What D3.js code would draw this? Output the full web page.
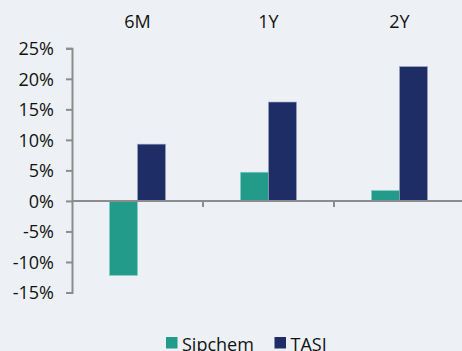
<!DOCTYPE html>
<html>
<head>
<meta charset="utf-8">
<script src="https://cdn.jsdelivr.net/npm/d3@7"></script>
<style>
  html, body { margin: 0; padding: 0; background: #edf1f5; }
  svg { display: block; }
</style>
</head>
<body>
<script>
const categories = ["6M", "1Y", "2Y"];
const seriesNames = ["Sipchem", "TASI"];
const sipchem = [-12.2, 4.7, 1.7];
const tasi = [9.3, 16.2, 22.0];
const yTicks = [25, 20, 15, 10, 5, 0, -5, -10, -15];

const colors = { Sipchem: "#239b8b", TASI: "#1f2d67" };

function main() {
    const width = 462;
    const height = 351;

    const svg = d3.select("body").append("svg")
        .attr("width", width)
        .attr("height", height)
        .style("font-family", "'Open Sans', sans-serif");

    svg.append("rect")
        .attr("width", width)
        .attr("height", height)
        .attr("fill", "#edf1f5");

    const x = d3.scaleBand()
        .domain(categories)
        .range([72, 465]);

    const inner = d3.scaleBand()
        .domain(seriesNames)
        .range([0, 56]);

    const y = d3.scaleLinear()
        .domain([-15, 25])
        .range([292.5, 48.3]);

    const rows = categories.map((c, i) => ({ cat: c, Sipchem: sipchem[i], TASI: tasi[i] }));

    // bars
    const groups = svg.append("g")
        .selectAll("g")
        .data(rows)
        .join("g")
        .attr("transform", d => `translate(${x(d.cat) + x.bandwidth() / 2 - 28},0)`);

    groups.selectAll("rect")
        .data(d => seriesNames.map(s => ({ s, v: d[s] })))
        .join("rect")
        .attr("x", d => inner(d.s))
        .attr("width", inner.bandwidth())
        .attr("y", d => y(Math.max(0, d.v)))
        .attr("height", d => Math.abs(y(d.v) - y(0)))
        .attr("fill", d => colors[d.s])
        .attr("stroke", d => d.s === "TASI" ? "#9aa6c4" : "#7fcfc1")
        .attr("stroke-width", 0.6);

    // y axis
    const yAxis = svg.append("g")
        .attr("transform", "translate(72,0)")
        .call(d3.axisLeft(y).tickValues(yTicks).tickSize(6).tickPadding(12).tickFormat(d => d + "%"));
    yAxis.select(".domain").attr("stroke", "#8c8c8c").attr("stroke-width", 2);
    yAxis.selectAll(".tick line").attr("stroke", "#8c8c8c").attr("stroke-width", 2);
    yAxis.selectAll(".tick text")
        .attr("font-size", 18)
        .attr("font-family", "'Open Sans', sans-serif")
        .attr("fill", "#111")
        .attr("dy", "0.35em");

    // x axis line at zero
    svg.append("line")
        .attr("x1", 72).attr("x2", width)
        .attr("y1", y(0)).attr("y2", y(0))
        .attr("stroke", "#8c8c8c")
        .attr("stroke-width", 2);

    // category separators
    svg.append("g")
        .selectAll("line")
        .data(categories.slice(1))
        .join("line")
        .attr("x1", d => x(d)).attr("x2", d => x(d))
        .attr("y1", y(0)).attr("y2", y(0) + 6)
        .attr("stroke", "#8c8c8c")
        .attr("stroke-width", 2);

    // category labels on top
    svg.append("g")
        .selectAll("text")
        .data(categories)
        .join("text")
        .attr("x", d => x(d) + x.bandwidth() / 2)
        .attr("y", 27.5)
        .attr("text-anchor", "middle")
        .attr("font-size", 18)
        .attr("fill", "#111")
        .text(d => d);

    // legend
    const legendX = [166, 274.5];
    const legend = svg.append("g")
        .selectAll("g")
        .data(seriesNames)
        .join("g")
        .attr("transform", (d, i) => `translate(${legendX[i]},337)`);
    legend.append("rect")
        .attr("width", 11.5)
        .attr("height", 11.5)
        .attr("fill", d => colors[d]);
    legend.append("text")
        .attr("x", 16)
        .attr("y", 13.5)
        .attr("font-size", 18)
        .attr("fill", "#111")
        .text(d => d);
}

addEventListener('DOMContentLoaded', main);
</script>
</body>
</html>
